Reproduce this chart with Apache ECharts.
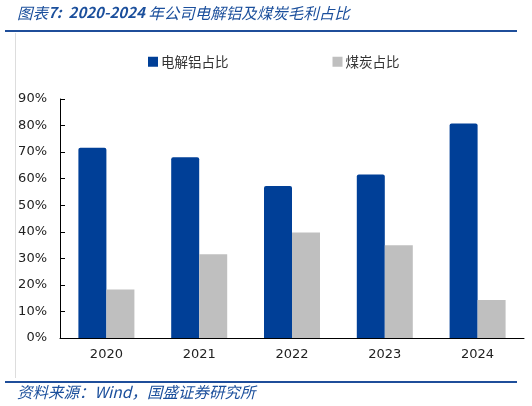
<!DOCTYPE html>
<html>
<head>
<meta charset="utf-8">
<script src="https://cdn.jsdelivr.net/npm/echarts@6/dist/echarts.min.js"></script>
<style>
html, body { margin: 0; padding: 0; background: #fff; }
#chart { width: 532px; height: 406px; }
</style>
</head>
<body>
<div id="chart"></div>
<script>
// 年份 & 两个占比
var years = ['2020', '2021', '2022', '2023', '2024'];
var aluminumShare = [0.716, 0.681, 0.572, 0.616, 0.808];
var coalShare = [0.183, 0.315, 0.397, 0.349, 0.143];
var seriesNames = ['电解铝占比', '煤炭占比'];

var blue = '#003F97';
var gray = '#BFBFBF';
var titleBlue = '#1B4F9C';
var cjk = '"Noto Sans CJK SC", sans-serif';

var myChart = echarts.init(document.getElementById('chart'));

var option = {
    animation: false,
    backgroundColor: '#fff',
    textStyle: { fontFamily: cjk },
    legend: {
        top: 50,
        left: 143,
        itemGap: 104,
        itemWidth: 10,
        itemHeight: 10,
        icon: 'rect',
        textStyle: { fontSize: 13.5, color: '#333', padding: [0, 0, 0, -2] },
        data: seriesNames
    },
    grid: { left: 60, right: 8, top: 99, bottom: 68 },
    xAxis: {
        type: 'category',
        data: years,
        axisLine: { lineStyle: { color: '#000', width: 1 } },
        axisTick: { inside: true, length: 5, lineStyle: { color: '#000' } },
        axisLabel: { color: '#222', fontSize: 13, margin: 10, fontFamily: '"DejaVu Sans", sans-serif' }
    },
    yAxis: {
        type: 'value',
        min: 0,
        max: 0.9,
        interval: 0.1,
        axisLine: { show: true, lineStyle: { color: '#000', width: 1 } },
        axisTick: { show: true, inside: true, length: 5, lineStyle: { color: '#000' } },
        splitLine: { show: false },
        axisLabel: {
            color: '#222',
            fontSize: 13,
            margin: 13,
            fontFamily: '"DejaVu Sans", sans-serif',
            formatter: function (v) { return Math.round(v * 100) + '%'; }
        }
    },
    series: [
        {
            name: seriesNames[0],
            type: 'bar',
            data: aluminumShare,
            barWidth: 28,
            barGap: '0%',
            itemStyle: { color: blue, borderRadius: [2, 2, 0, 0] }
        },
        {
            name: seriesNames[1],
            type: 'bar',
            data: coalShare,
            barWidth: 28,
            barGap: '0%',
            itemStyle: { color: gray }
        }
    ],
    graphic: [
        {
            type: 'text',
            left: 17,
            top: 5,
            style: {
                text: '{c|图表}{n|7:  2020-2024 }{c|年公司电解铝及煤炭毛利占比}',
                rich: {
                    c: { fill: titleBlue, font: 'italic 15.5px ' + cjk },
                    n: { fill: titleBlue, font: 'italic bold 15px ' + cjk }
                }
            }
        },
        {
            type: 'rect',
            shape: { x: 5, y: 30, width: 512, height: 2 },
            style: { fill: '#1F4E9A' }
        },
        {
            type: 'rect',
            shape: { x: 15, y: 33, width: 1, height: 345 },
            style: { fill: '#DDDDDD' }
        },
        {
            type: 'rect',
            shape: { x: 5, y: 381, width: 512, height: 2 },
            style: { fill: '#1F4E9A' }
        },
        {
            type: 'text',
            left: 17,
            top: 384,
            style: {
                text: '资料来源：Wind，国盛证券研究所',
                fill: titleBlue,
                font: 'italic 15.5px ' + cjk
            }
        }
    ]
};

myChart.setOption(option);
</script>
</body>
</html>
